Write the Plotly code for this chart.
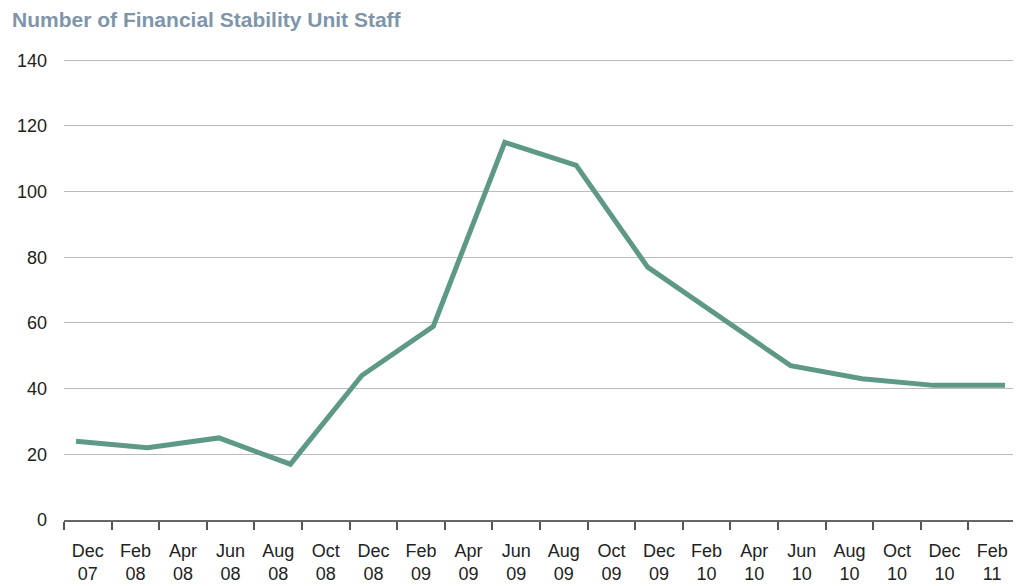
import plotly.graph_objects as go

# x-axis categories (two-line labels)
months = ["Dec", "Feb", "Apr", "Jun", "Aug", "Oct", "Dec", "Feb", "Apr", "Jun",
          "Aug", "Oct", "Dec", "Feb", "Apr", "Jun", "Aug", "Oct", "Dec", "Feb"]
years = ["07", "08", "08", "08", "08", "08", "08", "09", "09", "09",
         "09", "09", "09", "10", "10", "10", "10", "10", "10", "11"]
tick_labels = [f"{m}<br>{y}" for m, y in zip(months, years)]

# staff counts, plotted evenly across the chart
staff = [24, 22, 25, 17, 44, 59, 115, 108, 77, 62, 47, 43, 41, 41]
obs = list(range(len(staff)))

line_color = "#5e9988"
font_family = "Liberation Sans, Arial, sans-serif"

fig = go.Figure()
# invisible trace to hold the category axis
fig.add_trace(go.Scatter(x=tick_labels, y=[None] * len(tick_labels),
                         mode="lines", showlegend=False, hoverinfo="skip"))
fig.add_trace(go.Scatter(x=obs, y=staff, xaxis="x2", mode="lines",
                         line=dict(color=line_color, width=5),
                         showlegend=False))

# page has an 8px body margin, so the figure is sized and padded to suit
step = (1005 - 76) / 13
fig.update_layout(
    width=1013, height=578,
    margin=dict(l=56, r=5, t=49, b=66),
    paper_bgcolor="white", plot_bgcolor="white",
    font=dict(family=font_family, size=18, color="#222222"),
    title=dict(text="<b>Number of Financial Stability Unit Staff</b>",
               x=0.004, xanchor="left", y=0.979, yanchor="middle",
               font=dict(size=21, color="#7f95aa")),
    xaxis=dict(type="category", range=[-0.5, 19.5], tickson="boundaries",
               ticks="outside", ticklen=8, tickcolor="#555555", tickwidth=1.5,
               showline=True, linecolor="#666666", linewidth=2,
               showgrid=False, automargin=False, ticklabelstandoff=13,
               tickfont=dict(size=18, color="#222222")),
    xaxis2=dict(overlaying="x", range=[-12 / step, 13 + 11 / step],
                visible=False),
    yaxis=dict(range=[0, 141], dtick=20, showgrid=True, gridcolor="#bbbbbb",
               gridwidth=1, zeroline=False, showline=False, ticks="",
               automargin=False, ticklabelstandoff=16,
               tickfont=dict(size=18, color="#222222")),
)

fig.write_html("out.html")
